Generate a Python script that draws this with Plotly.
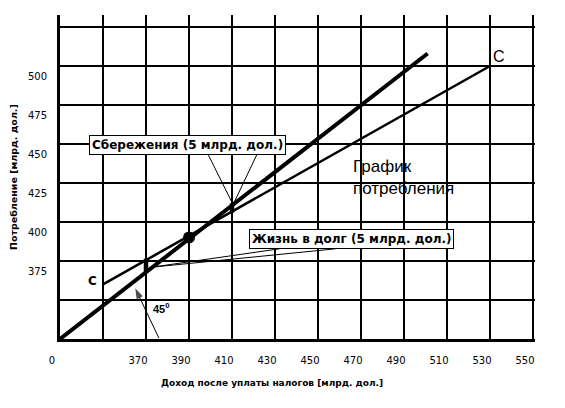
import plotly.graph_objects as go

# ---- data (billions) ----
x_tickvals = [330, 370, 390, 410, 430, 450, 470, 490, 510, 530, 550]
x_ticktext = ["0", "370", "390", "410", "430", "450", "470", "490", "510", "530", "550"]
y_tickvals = [375, 400, 425, 450, 475, 500]
y_ticktext = ["375", "400", "425", "450", "475", "500"]

line45_income = [330, 501]
line45_cons = [325, 508]

c_income = [350, 530]
c_cons = [360, 500]

equilibrium_income = [390]
equilibrium_cons = [390]

dissaving_income = [370, 370]
dissaving_cons = [368, 376.5]

saving_income = [410, 410]
saving_cons = [406, 412]

# leader lines from label boxes
sav_lead1_x = [399, 410.2]
sav_lead1_y = [443, 412]
sav_lead2_x = [421.5, 410.8]
sav_lead2_y = [443, 412]
dis_lead1_x = [372.5, 432]
dis_lead1_y = [371, 382.8]
dis_lead2_x = [372.5, 458]
dis_lead2_y = [371, 382.8]

# 45-degree pointer arrow
arrow_x = [376.0, 365.0]
arrow_y = [325.6, 357.5]

BOLD = "DejaVu Sans"
REG = "Liberation Sans"

fig = go.Figure()

def add_line(x, y, w):
    fig.add_trace(go.Scatter(x=x, y=y, mode="lines",
                             line=dict(color="black", width=w),
                             hoverinfo="skip", showlegend=False))

for lx, ly in [(sav_lead1_x, sav_lead1_y), (sav_lead2_x, sav_lead2_y),
               (dis_lead1_x, dis_lead1_y), (dis_lead2_x, dis_lead2_y)]:
    add_line(lx, ly, 1)

add_line(c_income, c_cons, 2.5)
add_line(line45_income, line45_cons, 4)
add_line(dissaving_income, dissaving_cons, 4.5)
add_line(saving_income, saving_cons, 4.5)

fig.add_trace(go.Scatter(x=equilibrium_income, y=equilibrium_cons, mode="markers",
                         marker=dict(color="black", size=12),
                         hoverinfo="skip", showlegend=False))

fig.add_trace(go.Scatter(x=arrow_x, y=arrow_y, mode="lines+markers",
                         line=dict(color="black", width=1),
                         marker=dict(symbol=["circle", "arrow"], size=[0, 11],
                                     angleref="previous", color="black",
                                     line=dict(width=0)),
                         hoverinfo="skip", showlegend=False))

# page has an 8px body margin: figure origin sits at (8, 8)
OFF = 8
PW, PH = 475.0, 324.0  # plot area px (page x 60..535, y 15..339)

def px_x(px):
    return (px - 60) / PW

def px_y(py):
    return (339 - py) / PH

annotations = [
    dict(x=389.3, y=449.4, text="<b>Сбережения (5 млрд. дол.)</b>",
         font=dict(family=BOLD, size=12, color="black"),
         bgcolor="white", bordercolor="black", borderwidth=1, borderpad=2,
         showarrow=False),
    dict(x=465.8, y=389.4, text="<b>Жизнь в долг (5 млрд. дол.)</b>",
         font=dict(family=BOLD, size=12, color="black"),
         bgcolor="white", bordercolor="black", borderwidth=1, borderpad=2,
         showarrow=False),
    dict(x=465.3, y=428.8, text="График<br>потребления", align="left",
         xanchor="left", font=dict(family=REG, size=17, color="black"),
         showarrow=False),
    dict(x=344.9, y=362.2, text="<b>C</b>",
         font=dict(family=BOLD, size=12, color="black"), showarrow=False),
    dict(x=534.2, y=506.4, text="C",
         font=dict(family=REG, size=16, color="black"), showarrow=False),
    dict(x=377.4, y=344.9, text="<b>45<sup>0</sup></b>",
         font=dict(family=REG, size=11, color="black"), showarrow=False),
    dict(xref="paper", yref="paper", x=px_x(272), y=px_y(383),
         xanchor="center", yanchor="middle",
         text="<b>Доход после уплаты налогов [млрд. дол.]</b>",
         font=dict(family=BOLD, size=9, color="black"), showarrow=False),
    dict(xref="paper", yref="paper", x=px_x(13), y=px_y(177), textangle=-90,
         xanchor="center", yanchor="middle",
         text="<b>Потребление [млрд. дол.]</b>",
         font=dict(family=BOLD, size=9.5, color="black"), showarrow=False),
]

grid = dict(showgrid=True, gridcolor="black", gridwidth=1.5)

fig.update_layout(
    width=565 - OFF, height=408 - OFF,
    margin=dict(l=60 - OFF, r=30, t=15 - OFF, b=69),
    paper_bgcolor="white", plot_bgcolor="white",
    annotations=annotations,
    xaxis=dict(
        range=[330, 330 + PW / 2.15], automargin=False,
        tickvals=x_tickvals, ticktext=x_ticktext,
        minor=dict(tick0=330, dtick=20, ticks="", **grid),
        showline=True, linecolor="black", linewidth=3,
        zeroline=False, ticks="",
        ticklabelshift=-8, ticklabelstandoff=10,
        tickfont=dict(family=BOLD, size=10, color="black"),
        fixedrange=True, **grid,
    ),
    yaxis=dict(
        range=[325, 325 + PH / 1.56], automargin=False,
        tickvals=y_tickvals, ticktext=y_ticktext,
        minor=dict(tick0=325, dtick=25, ticks="", **grid),
        showline=True, linecolor="black", linewidth=3,
        zeroline=False, ticks="",
        ticklabelshift=10, ticklabelstandoff=8,
        tickfont=dict(family=BOLD, size=10, color="black"),
        fixedrange=True, **grid,
    ),
    hovermode=False,
)

fig.write_html("out.html", config={"displayModeBar": False})
